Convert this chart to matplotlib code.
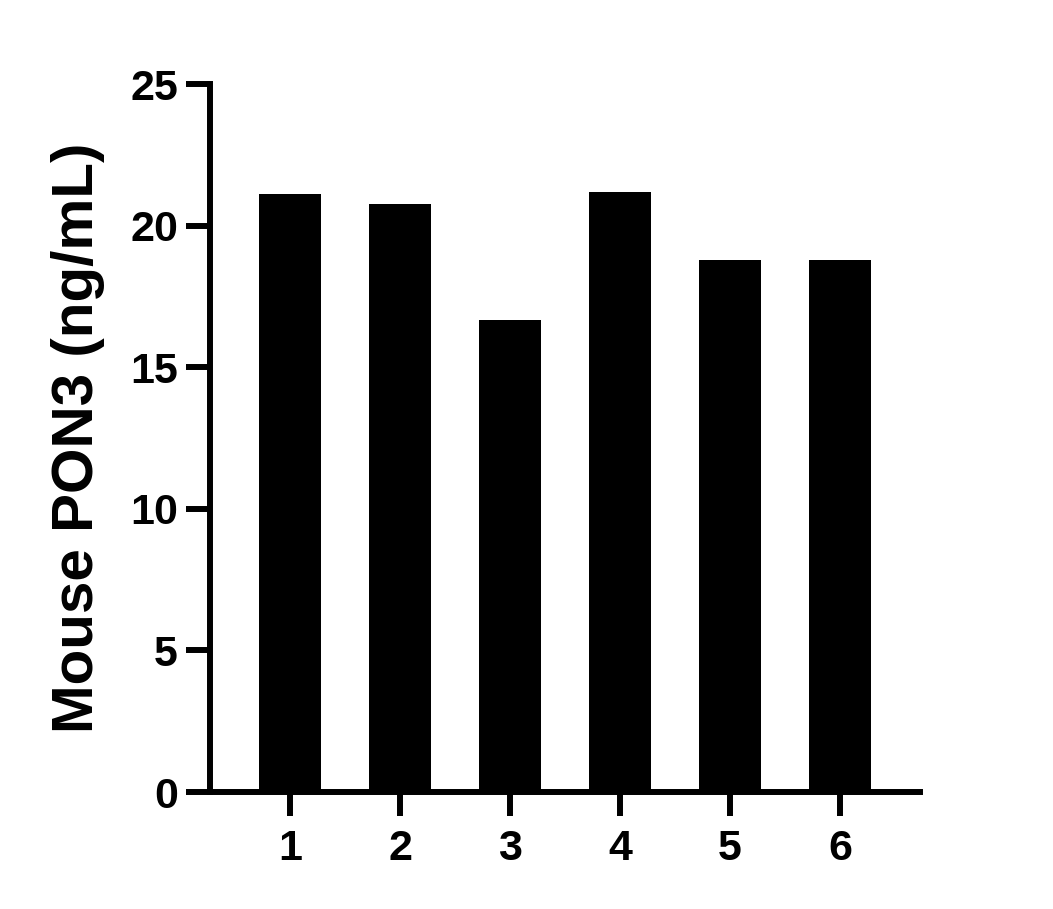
import matplotlib
matplotlib.use("Agg")
import matplotlib.pyplot as plt

samples = ["1", "2", "3", "4", "5", "6"]
values = [21.12, 20.76, 16.67, 21.19, 18.79, 18.79]
y_ticks = [0, 5, 10, 15, 20, 25]

plt.rcParams["font.family"] = ["Liberation Sans", "DejaVu Sans"]
plt.rcParams["font.weight"] = "bold"

fig = plt.figure(figsize=(10.53, 9.09), dpi=100)
ax = fig.add_axes([210 / 1053, 1 - 792 / 909, 710 / 1053, 708 / 909])

x = list(range(1, len(samples) + 1))
ax.bar(x, values, width=0.555, color="black")

ax.set_xlim(1 - 80 / 110, 6 + 80 / 110)
ax.set_ylim(0, 25)
ax.set_xticks(x)
ax.set_xticklabels(samples)
ax.set_yticks(y_ticks)

for s in ["top", "right"]:
    ax.spines[s].set_visible(False)
for s in ["left", "bottom"]:
    ax.spines[s].set_linewidth(4.3)
    ax.spines[s].set_capstyle("projecting")

ax.tick_params(axis="both", length=17, width=4.3, labelsize=31)
ax.tick_params(axis="y", pad=6)
ax.tick_params(axis="x", pad=10)
for lab in ax.get_xticklabels() + ax.get_yticklabels():
    lab.set_fontweight("bold")

ax.set_ylabel("Mouse PON3 (ng/mL)", fontsize=42, fontweight="bold", labelpad=18)

fig.savefig("out.png", dpi=100)
